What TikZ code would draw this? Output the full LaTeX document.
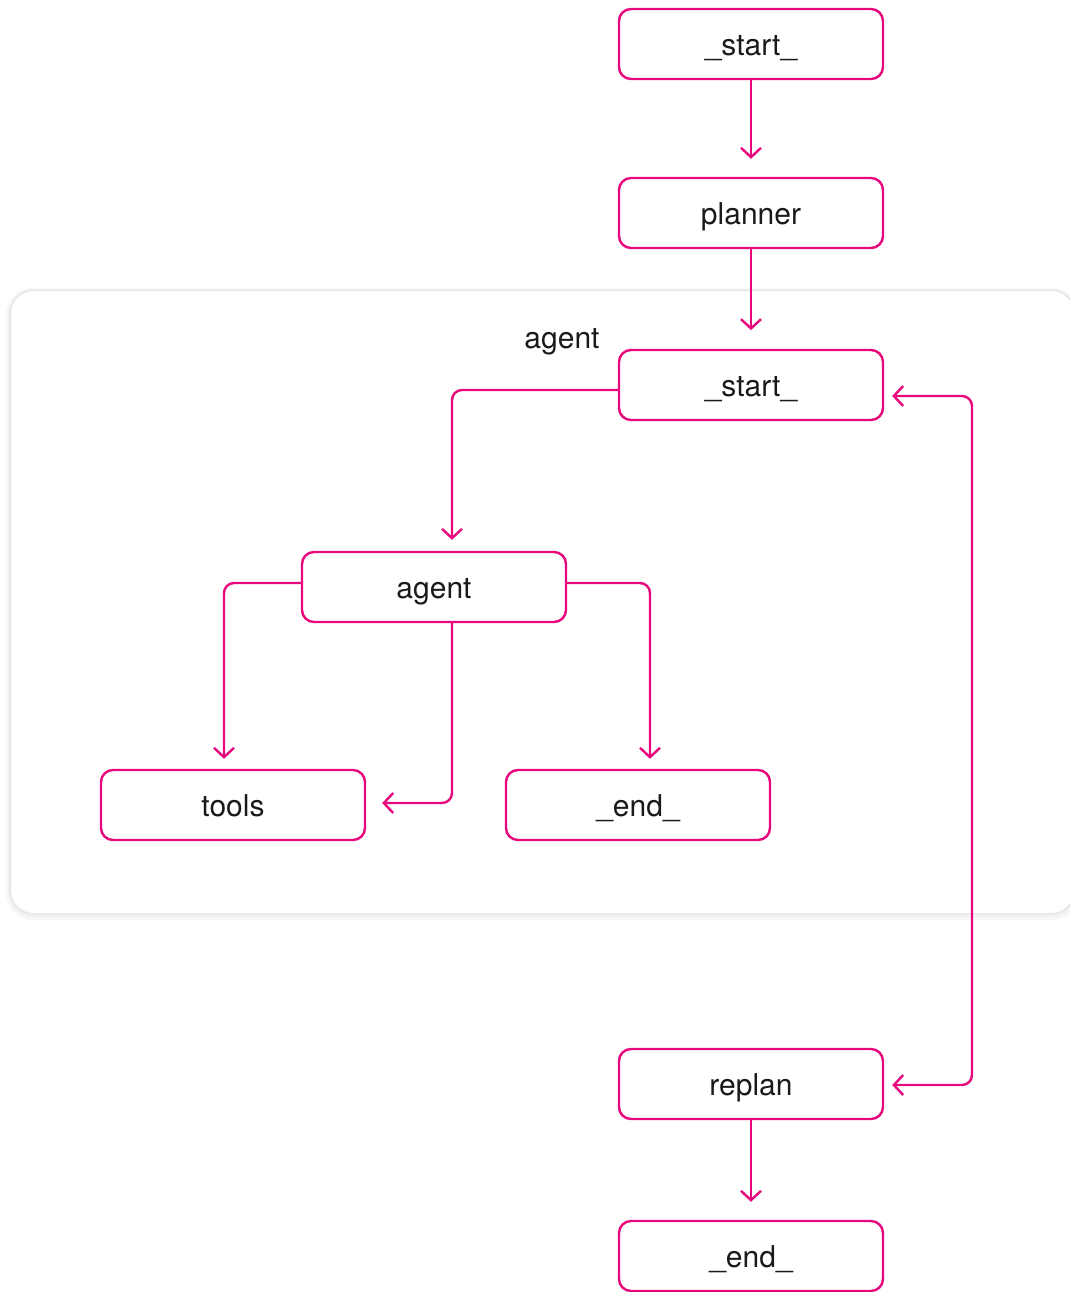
\documentclass[tikz,border=0pt]{standalone}
\usepackage{fontspec}
\setmainfont{TeX Gyre Heros}
\usetikzlibrary{arrows.meta}
\definecolor{mag}{HTML}{E8087E}
\definecolor{txt}{HTML}{1A1A1A}
\begin{document}
\begin{tikzpicture}[x=0.75pt,y=-0.75pt,
  box/.style={draw=mag, line width=1.8pt, rounded corners=9pt, minimum width=198pt, minimum height=52.5pt, inner sep=0pt, text height=17pt, text depth=0.5pt, font=\fontsize{22.5}{26}\selectfont, text=txt, fill=white},
  edge/.style={draw=mag, line width=1.8pt, rounded corners=7.5pt, -{Straight Barb[length=7pt,width=15pt,line width=1.8pt]}},
  lbl/.style={font=\fontsize{22.5}{26}\selectfont, text=txt, inner sep=0pt}]
\useasboundingbox (0,0) rectangle (1070,1292);
\fill[white] (0,0) rectangle (1070,1292);
% container with soft shadow
\draw[line width=8pt, black!3, rounded corners=17pt] (11,293) rectangle (1074,915);
\draw[line width=4.5pt, black!6, rounded corners=17pt] (11,292) rectangle (1074,914);
\draw[line width=1.8pt, black!11, rounded corners=17pt] (11,291) rectangle (1074,913);
\fill[white, rounded corners=17pt] (11,291) rectangle (1074,913);
% nodes
\node[box] (s1) at (751,44) {\_start\_};
\node[box] (planner) at (751,213) {planner};
\node[box] (s2) at (751,385) {\_start\_};
\node[box] (agent) at (434,587) {agent};
\node[box] (tools) at (233,805) {tools};
\node[box] (e1) at (638,805) {\_end\_};
\node[box] (replan) at (751,1084) {replan};
\node[box] (e2) at (751,1256) {\_end\_};
\node[lbl] (agentlbl) at (562,342) {agent};
\coordinate (rx) at (972,700);
% edges
\draw[edge, shorten >=13.5pt] (s1.south) -- (planner.north);
\draw[edge, shorten >=14pt] (planner.south) -- (s2.north);
\draw[edge, shorten >=8.25pt] ([yshift=-3.75pt]s2.west) -| ([xshift=13.5pt]agent.north);
\draw[edge, shorten >=7.5pt] ([yshift=3pt]agent.west) -| ([xshift=-6.75pt]tools.north);
\draw[edge, shorten >=7.5pt] ([yshift=3pt]agent.east) -| ([xshift=9pt]e1.north);
\draw[edge, shorten >=12pt] ([xshift=13.5pt]agent.south) |- ([yshift=1.5pt]tools.east);
\draw[edge, {Straight Barb[length=7pt,width=15pt,line width=1.8pt]}-{Straight Barb[length=7pt,width=15pt,line width=1.8pt]}, shorten >=6pt, shorten <=6pt] ([yshift=-8.25pt]s2.east) -| (rx) |- ([yshift=-0.75pt]replan.east);
\draw[edge, shorten >=13.5pt] (replan.south) -- (e2.north);
\end{tikzpicture}
\end{document}
